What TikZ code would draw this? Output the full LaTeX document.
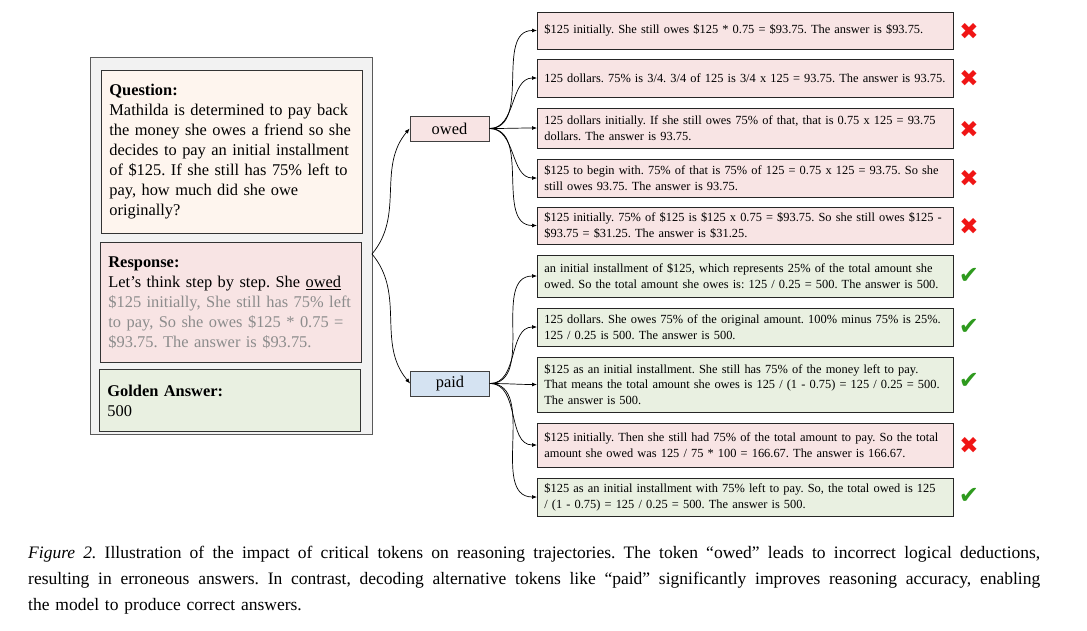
\documentclass[tikz,border=0pt]{standalone}
\usepackage{fontspec}
\setmainfont{Liberation Serif}
\newfontfamily\markfont{DejaVu Sans}
\usetikzlibrary{arrows.meta}

\definecolor{panelgray}{HTML}{F2F2F2}
\definecolor{panelline}{HTML}{5A5A5A}
\definecolor{questionfill}{HTML}{FEF5EE}
\definecolor{wrongfill}{HTML}{F8E4E4}
\definecolor{rightfill}{HTML}{E9F0E1}
\definecolor{paidfill}{HTML}{D5E3F2}
\definecolor{fadedtext}{HTML}{8C8C8C}
\definecolor{crossred}{HTML}{F01515}
\definecolor{tickgreen}{HTML}{2E9A1E}

\newcommand{\capline}[1]{{\spaceskip=0pt\xspaceskip=0pt\makebox[1012pt][s]{#1}}}
\frenchspacing

\begin{document}
\begin{tikzpicture}[x=1pt, y=1pt,
  panel/.style={draw=panelline, fill=panelgray, line width=1pt, anchor=north west, inner sep=0pt},
  leftbox/.style={draw=black!80, line width=0.8pt, anchor=north west, inner xsep=8pt,
    text width=245pt, align=left, font=\fontsize{16.4}{20}\selectfont},
  tokbox/.style={draw=black!75, line width=0.8pt, minimum width=79pt, minimum height=25pt,
    inner sep=0pt, font=\fontsize{16.4}{20}\selectfont},
  trajbox/.style={draw=black!85, line width=0.8pt, anchor=west, inner xsep=7pt, inner ysep=0pt,
    text width=402pt, align=left, font=\fontsize{12.4}{15.7}\selectfont},
  badbox/.style={trajbox, fill=wrongfill},
  goodbox/.style={trajbox, fill=rightfill},
  badmark/.style={text=crossred, font=\markfont\fontsize{23}{23}\selectfont},
  goodmark/.style={text=tickgreen, font=\markfont\fontsize{24}{24}\selectfont},
  traj/.style={-{Latex[length=5pt,width=4pt]}, line width=0.7pt}]
  \useasboundingbox[fill=white] (0,0) rectangle (1087,-630);
  %% left panel
  \node[panel, minimum width=282pt, minimum height=377pt] (panel) at (90,-57) {};
  \node[leftbox, fill=questionfill, minimum height=163pt] (question) at (101,-70)
    {\textbf{Question:}\\
     Mathilda is determined to pay back\\
     the money she owes a friend so she\\
     decides to pay an initial installment\\
     of \$125. If she still has 75\% left to\\
     pay, how much did she owe\\
     originally?};
  \node[leftbox, fill=wrongfill, minimum height=120pt] (response) at (100,-242)
    {\textbf{Response:}\\
     Let’s think step by step. She \underline{owed}\\
     \textcolor{fadedtext}{\$125 initially, She still has 75\% left}\\
     \textcolor{fadedtext}{to pay, So she owes \$125 * 0.75 =}\\
     \textcolor{fadedtext}{\$93.75. The answer is \$93.75.}};
  \node[leftbox, fill=rightfill, minimum height=62pt] (golden) at (99,-369)
    {\textbf{Golden Answer:}\\
     500};
  %% critical tokens
  \coordinate (fork) at (372,-254);
  \node[tokbox, fill=wrongfill] (owed) at (449.5,-128.5) {owed};
  \node[tokbox, fill=paidfill] (paid) at (450,-383.5) {paid};
  \draw[traj] (fork) to[out=50, in=230] (owed.west);
  \draw[traj] (fork) to[out=-50, in=130] (paid.west);
  %% trajectories after "owed"
  \node[badbox, minimum height=37pt] (o1) at (537,-30.5)
    {\$125 initially. She still owes \$125 * 0.75 = \$93.75. The answer is \$93.75.};
  \node[badbox, minimum height=38pt] (o2) at (537,-78)
    {125 dollars. 75\% is 3/4. 3/4 of 125 is 3/4 x 125 = 93.75. The answer is 93.75.};
  \node[badbox, minimum height=40pt] (o3) at (537,-128)
    {125 dollars initially. If she still owes 75\% of that, that is 0.75 x 125 = 93.75\\
     dollars. The answer is 93.75.};
  \node[badbox, minimum height=38pt] (o4) at (537,-178)
    {\$125 to begin with. 75\% of that is 75\% of 125 = 0.75 x 125 = 93.75. So she\\
     still owes 93.75. The answer is 93.75.};
  \node[badbox, minimum height=37pt] (o5) at (537,-225.5)
    {\$125 initially. 75\% of \$125 is \$125 x 0.75 = \$93.75. So she still owes \$125 -\\
     \$93.75 = \$31.25. The answer is \$31.25.};
  %% trajectories after "paid"
  \node[goodbox, minimum height=42pt] (p1) at (537,-276)
    {an initial installment of \$125, which represents 25\% of the total amount she\\
     owed. So the total amount she owes is: 125 / 0.25 = 500. The answer is 500.};
  \node[goodbox, minimum height=38pt] (p2) at (537,-327)
    {125 dollars. She owes 75\% of the original amount. 100\% minus 75\% is 25\%.\\
     125 / 0.25 is 500. The answer is 500.};
  \node[goodbox, minimum height=55pt] (p3) at (537,-384.5)
    {\$125 as an initial installment. She still has 75\% of the money left to pay.\\
     That means the total amount she owes is 125 / (1 - 0.75) = 125 / 0.25 = 500.\\
     The answer is 500.};
  \node[badbox, minimum height=44pt] (p4) at (537,-445)
    {\$125 initially. Then she still had 75\% of the total amount to pay. So the total\\
     amount she owed was 125 / 75 * 100 = 166.67. The answer is 166.67.};
  \node[goodbox, minimum height=38pt] (p5) at (537,-497)
    {\$125 as an initial installment with 75\% left to pay. So, the total owed is 125\\
     / (1 - 0.75) = 125 / 0.25 = 500. The answer is 500.};
  %% arrows to trajectories
  \foreach \t in {o1,o2,o3,o4,o5}
    \draw[traj] (owed.east) to[out=0, in=180] (\t.west);
  \foreach \t in {p1,p2,p3,p4,p5}
    \draw[traj] (paid.east) to[out=0, in=180] (\t.west);
  %% marks
  \node[badmark] (m1) at (969,-31) {✖};
  \node[badmark] (m2) at (969,-78) {✖};
  \node[badmark] (m3) at (969,-129) {✖};
  \node[badmark] (m4) at (969,-178) {✖};
  \node[badmark] (m5) at (969,-226) {✖};
  \node[goodmark] (m6) at (969,-276) {✔};
  \node[goodmark] (m7) at (969,-327) {✔};
  \node[goodmark] (m8) at (969,-381) {✔};
  \node[badmark] (m9) at (969,-445) {✖};
  \node[goodmark] (m10) at (969,-496) {✔};
  %% caption
  \node[anchor=north west, inner sep=0pt, text width=1012pt, align=left,
    font=\fontsize{17.5}{25.8}\selectfont] (caption) at (28,-546)
    {\capline{\textit{Figure 2.} Illustration of the impact of critical tokens on reasoning trajectories. The token “owed” leads to incorrect logical deductions,}\\
     \capline{resulting in erroneous answers. In contrast, decoding alternative tokens like “paid” significantly improves reasoning accuracy, enabling}\\
     the model to produce correct answers.};
\end{tikzpicture}
\end{document}
